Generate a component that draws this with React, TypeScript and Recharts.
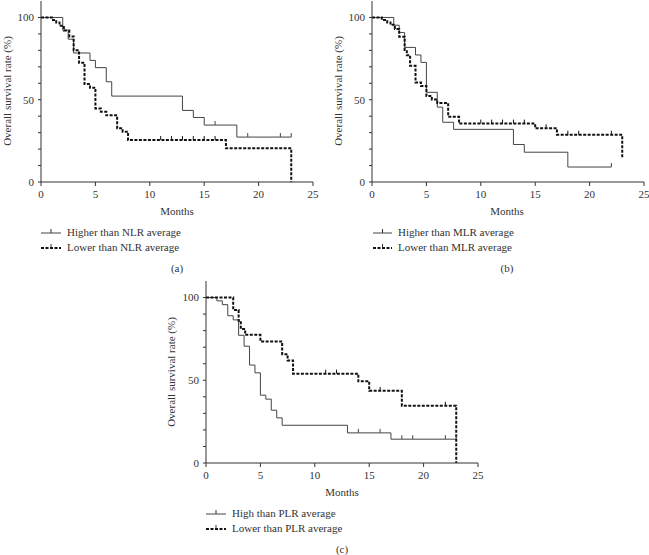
import React from "react";
import { LineChart, Line, XAxis, YAxis } from "recharts";

// survival step points [month, %] and censor times for each group
const nlrHigh: [number, number][] = [
  [0, 100], [2, 92.3], [2.5, 86.8], [3, 78.4], [4.5, 73.9], [5, 69.5], [6, 60.9],
  [6.5, 52.2], [13, 43.5], [14, 39.2], [15, 34.6], [18, 27.3],
];
const nlrHighCensor = [16, 19, 22, 23];

const nlrLow: [number, number][] = [
  [0, 100], [1, 98.5], [1.4, 97], [1.7, 95], [2.1, 92], [2.6, 88.5], [3, 80], [3.5, 72.5],
  [4, 59.5], [4.5, 57.3], [5, 44.7], [5.5, 42.7], [6, 40.5], [7, 32.6], [7.5, 30.6],
  [8, 25.5], [17, 20.5], [23, 0],
];
const nlrLowCensor = [11, 12, 13, 14, 15, 16];

const mlrHigh: [number, number][] = [
  [0, 100], [2, 95.3], [2.5, 90.8], [3, 81.8], [4, 77.2], [4.5, 72.7], [5, 54.5],
  [6, 45.5], [6.5, 36.3], [7.5, 32], [13, 22.8], [14, 18.1], [18, 9.1],
];
const mlrHighCensor = [22];

const mlrLow: [number, number][] = [
  [0, 100], [0.9, 98.5], [1.4, 97], [1.7, 95.5], [2.1, 93], [2.5, 88.3], [3, 80.2],
  [3.2, 77], [3.5, 70.6], [4, 60.5], [4.5, 58.3], [5, 52.2], [5.5, 50.2], [6, 48],
  [7, 39.7], [8, 35.5], [15, 32.6], [17, 28.7], [23, 14.4],
];
const mlrLowCensor = [10, 11, 12, 13, 14, 16, 18, 19, 22];

const plrHigh: [number, number][] = [
  [0, 100], [1, 98], [1.5, 95.7], [2, 89], [2.5, 86.5], [3, 77.2], [3.5, 70.6],
  [4, 59.2], [4.5, 54.5], [5, 41], [5.5, 38.6], [6, 31.9], [6.5, 27.3], [7, 22.8],
  [13, 18.2], [17, 14.4],
];
const plrHighCensor = [14, 16, 18, 19, 22, 23];

const plrLow: [number, number][] = [
  [0, 100], [2.5, 92.5], [3, 86], [3.2, 81], [3.6, 77.5], [5, 73.5], [7, 65.8],
  [7.5, 62], [8, 54], [14, 49.4], [15, 43.6], [18, 34.6], [23, 0],
];
const plrLowCensor = [11, 12, 16, 22];

const xTicks = [0, 5, 10, 15, 20, 25];
const yTicks = [0, 10, 20, 30, 40, 50, 60, 70, 80, 90, 100];
const yLabelled = [0, 50, 100];

const FONT = "'Liberation Serif', 'DejaVu Serif', serif";
const INK = "#333";

type Pt = { t: number; s: number; c?: boolean };

function build(events: [number, number][], censors: number[]): Pt[] {
  const pts: Pt[] = events.map(([t, s]) => ({ t, s }));
  censors.forEach((t) => {
    let s = events[0][1];
    events.forEach(([et, es]) => {
      if (et <= t) s = es;
    });
    pts.push({ t, s, c: true });
  });
  return pts.sort((a, b) => a.t - b.t || (a.c ? 1 : 0) - (b.c ? 1 : 0));
}

const censorDot = (color: string) => (props: any) => {
  const { cx, cy, payload, index } = props;
  if (!payload || !payload.c) return <g key={`n${index}`} />;
  return (
    <line key={`c${index}`} x1={cx} x2={cx} y1={cy} y2={cy - 4} stroke={color} strokeWidth={1} />
  );
};

interface PanelProps {
  left: number;
  top: number;
  plotH: number;
  solid: Pt[];
  dashed: Pt[];
}

const tickStyle = { fontSize: 11, fill: INK, fontFamily: FONT };

const Panel = ({ left, top, plotH, solid, dashed }: PanelProps) => (
  <div style={{ position: "absolute", left, top }}>
    <LineChart
      width={41 + 272 + 8}
      height={1 + plotH + 23}
      margin={{ top: 1, right: 8, bottom: 0, left: 0 }}
    >
      <XAxis
        type="number"
        dataKey="t"
        domain={[0, 25]}
        ticks={xTicks}
        interval={0}
        height={23}
        tickSize={4}
        tickMargin={4}
        stroke={INK}
        tick={tickStyle}
        allowDataOverflow
      />
      <YAxis
        type="number"
        domain={[0, 110]}
        ticks={yTicks}
        interval={0}
        width={41}
        tickSize={3}
        tickMargin={4}
        stroke={INK}
        tick={tickStyle}
        tickFormatter={(v: number) => (yLabelled.includes(v) ? String(v) : "")}
        allowDataOverflow
      />
      <Line
        data={solid}
        dataKey="s"
        type="stepAfter"
        stroke="#444"
        strokeWidth={1}
        dot={censorDot("#444")}
        activeDot={false}
        isAnimationActive={false}
      />
      <Line
        data={dashed}
        dataKey="s"
        type="stepAfter"
        stroke="#111"
        strokeWidth={2}
        strokeDasharray="3 1.5"
        dot={censorDot("#111")}
        activeDot={false}
        isAnimationActive={false}
      />
    </LineChart>
  </div>
);

const Text = ({ cx, cy, children }: { cx: number; cy: number; children: React.ReactNode }) => (
  <div
    style={{
      position: "absolute",
      left: cx - 60,
      top: cy - 7,
      width: 120,
      lineHeight: "14px",
      textAlign: "center",
      fontSize: 11,
    }}
  >
    {children}
  </div>
);

const YLabel = ({ cx, cy }: { cx: number; cy: number }) => (
  <div
    style={{
      position: "absolute",
      left: cx - 70,
      top: cy - 7,
      width: 140,
      lineHeight: "14px",
      textAlign: "center",
      fontSize: 11,
      transform: "rotate(-90deg)",
      whiteSpace: "nowrap",
    }}
  >
    Overall survival rate (%)
  </div>
);

const LegendRow = ({ x, textX, cy, dashed, label }: { x: number; textX: number; cy: number; dashed?: boolean; label: string }) => (
  <>
    <svg style={{ position: "absolute", left: x, top: cy - 5 }} width={textX - x - 6} height={10}>
      <line
        x1={0}
        x2={textX - x - 6}
        y1={6}
        y2={6}
        stroke={dashed ? "#111" : "#444"}
        strokeWidth={dashed ? 2 : 1}
        strokeDasharray={dashed ? "3 1.5" : undefined}
      />
      <line x1={(textX - x - 6) / 2} x2={(textX - x - 6) / 2} y1={6} y2={2} stroke="#333" strokeWidth={1} />
    </svg>
    <div
      style={{
        position: "absolute",
        left: textX,
        top: cy - 7,
        lineHeight: "14px",
        fontSize: 11,
        whiteSpace: "nowrap",
      }}
    >
      {label}
    </div>
  </>
);

export default function App() {
  return (
    <div
      style={{
        position: "absolute",
        left: 0,
        top: 0,
        width: 649,
        height: 555,
        background: "#fff",
        fontFamily: FONT,
        color: INK,
        overflow: "hidden",
      }}
    >
      {/* (a) NLR */}
      <Panel left={0} top={0} plotH={181} solid={build(nlrHigh, nlrHighCensor)} dashed={build(nlrLow, nlrLowCensor)} />
      <YLabel cx={7} cy={91} />
      <Text cx={177} cy={211}>Months</Text>
      <LegendRow x={41} textX={67} cy={232} label="Higher than NLR average" />
      <LegendRow x={41} textX={67} cy={247} dashed label="Lower than NLR average" />
      <Text cx={177} cy={268}>(a)</Text>

      {/* (b) MLR */}
      <Panel left={331} top={0} plotH={181} solid={build(mlrHigh, mlrHighCensor)} dashed={build(mlrLow, mlrLowCensor)} />
      <YLabel cx={338} cy={91} />
      <Text cx={507} cy={211}>Months</Text>
      <LegendRow x={373} textX={398} cy={232} label="Higher than MLR average" />
      <LegendRow x={373} textX={398} cy={247} dashed label="Lower than MLR average" />
      <Text cx={507} cy={268}>(b)</Text>

      {/* (c) PLR */}
      <Panel left={165} top={280} plotH={182} solid={build(plrHigh, plrHighCensor)} dashed={build(plrLow, plrLowCensor)} />
      <YLabel cx={171} cy={372} />
      <Text cx={342} cy={492}>Months</Text>
      <LegendRow x={206} textX={232} cy={513} label="High than PLR average" />
      <LegendRow x={206} textX={232} cy={528} dashed label="Lower than PLR average" />
      <Text cx={342} cy={549}>(c)</Text>
    </div>
  );
}
